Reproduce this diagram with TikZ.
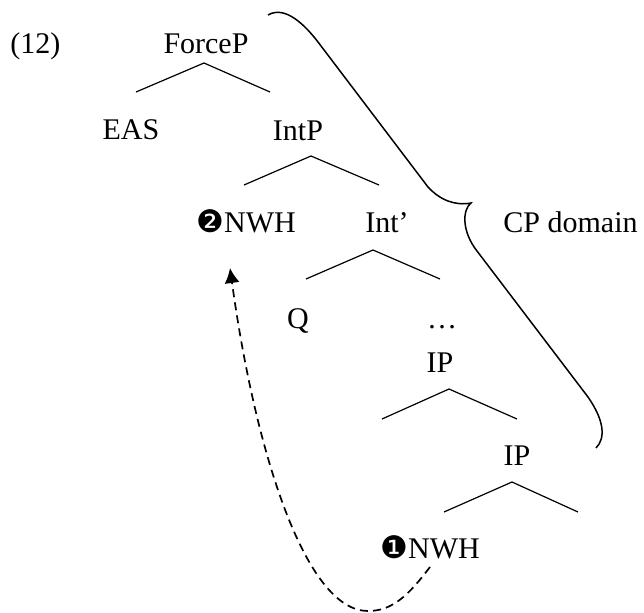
\documentclass[tikz,border=0pt]{standalone}
\usepackage{fontspec}
\setmainfont{Liberation Serif}
\newfontfamily\dingfont{DejaVu Sans}
\usetikzlibrary{arrows.meta}

% a pair of branches hanging from one apex
\newcommand\branches[3]{\draw[branch] (#2) -- (#1) -- (#3);}
\newcommand\stepno[1]{{\dingfont\fontsize{15.5}{17}\selectfont #1}}

\begin{document}
\begin{tikzpicture}[x=0.5pt,y=-0.5pt,
  lbl/.style={inner sep=0pt, font=\fontsize{15}{17}\selectfont},
  branch/.style={line width=0.6pt},
  bracket/.style={line width=0.75pt},
  movement/.style={line width=0.85pt, dash pattern=on 4pt off 2.6pt,
                   -{Latex[length=7.5pt,width=7.5pt]}}]
\useasboundingbox (0,0) rectangle (644,612);

% labels
\node[lbl, anchor=base west] (ex)    at (10,53)   {(12)};
\node[lbl, anchor=base]      (force) at (206,53)  {ForceP};
\node[lbl, anchor=base]      (eas)   at (131,139) {EAS};
\node[lbl, anchor=base]      (intp)  at (298,140) {IntP};
\node[lbl, anchor=base west] (nwhb)  at (196,232) {\stepno{❷}NWH};
\node[lbl, anchor=base west] (intb)  at (365,232) {Int’};
\node[lbl, anchor=base]      (q)     at (298,328) {Q};
\node[lbl, anchor=base]      (dots)  at (442,328) {…};
\node[lbl, anchor=base]      (ipa)   at (440,372) {IP};
\node[lbl, anchor=base]      (ipb)   at (517,465) {IP};
\node[lbl, anchor=base west] (nwha)  at (380,558) {\stepno{❶}NWH};
\node[lbl, anchor=base west] (cp)    at (503,232) {CP domain};

% branch points
\coordinate (fpA) at (204,63);  \coordinate (fpL) at (136,92);  \coordinate (fpR) at (270,92);
\coordinate (ipA) at (311,156); \coordinate (ipL) at (244,185); \coordinate (ipR) at (379,185);
\coordinate (ibA) at (373,250); \coordinate (ibL) at (306,279); \coordinate (ibR) at (440,279);
\coordinate (p1A) at (449,389); \coordinate (p1L) at (382,419); \coordinate (p1R) at (517,419);
\coordinate (p2A) at (512,482); \coordinate (p2L) at (444,512); \coordinate (p2R) at (578,512);

\branches{fpA}{fpL}{fpR}
\branches{ipA}{ipL}{ipR}
\branches{ibA}{ibL}{ibR}
\branches{p1A}{p1L}{p1R}
\branches{p2A}{p2L}{p2R}

% curly brace over the CP domain
\draw[bracket] (268,15) .. controls (285,5) and (305,25) .. (318,42)
  -- (428,187) .. controls (440,200) and (455,206) .. (471,203)
  .. controls (462,210) and (462,232) .. (477,251)
  -- (588,397) .. controls (604,420) and (606,438) .. (596,448);

% movement of NWH
\coordinate (mvfrom) at (430,567);
\coordinate (mvlow)  at (368,611);
\coordinate (mvto)   at (230,268);
\draw[movement] (mvfrom) .. controls (408,596) and (392,611) .. (mvlow)
  .. controls (305,611) and (255,450) .. (mvto);
\end{tikzpicture}
\end{document}
